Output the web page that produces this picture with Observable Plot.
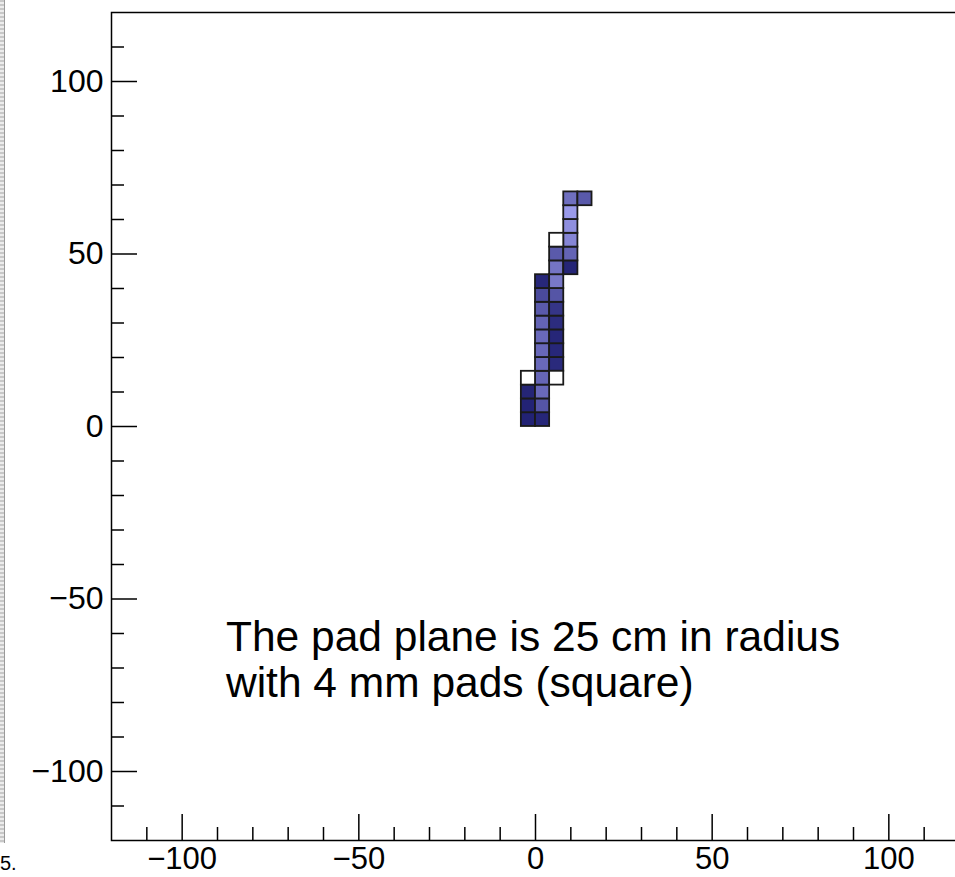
<!DOCTYPE html>
<html>
<head>
<meta charset="utf-8">
<script src="https://cdn.jsdelivr.net/npm/d3@7"></script>
<script src="https://cdn.jsdelivr.net/npm/@observablehq/plot@0.6"></script>
<style>
  html, body { margin: 0; padding: 0; background: #fff; overflow: hidden; }
  #wrap { position: relative; width: 955px; height: 877px; overflow: hidden; }
  #chart { position: absolute; left: 0; top: 0; width: 960px; }
  #chart svg { max-width: none !important; }
  #strip { position: absolute; left: 0; top: 0; width: 4px; height: 843px;
           background: repeating-linear-gradient(#c8c8c8 0 2px, #ececec 2px 4px);
           border-right: 1px solid #9a9a9a; }
  #edge { position: absolute; left: 0px; top: 852px; line-height: 22px;
          font: 20px "Liberation Sans", Arial, Helvetica, sans-serif; color: #000; }
</style>
</head>
<body>
<div id="wrap"><div id="chart"></div><div id="strip"></div><div id="edge">5.</div></div>
<script>
// ---- axis data ----
const xDomain = [-120, 120];
const yDomain = [-120, 120];
const xMajorTicks = [-100, -50, 0, 50, 100];
const xMinorTicks = [-110, -90, -80, -70, -60, -40, -30, -20, -10, 10, 20, 30, 40, 60, 70, 80, 90, 110];
const yMajorTicks = [-100, -50, 0, 50, 100];
const yMinorTicks = [-110, -90, -80, -70, -60, -40, -30, -20, -10, 10, 20, 30, 40, 60, 70, 80, 90, 110];

// ---- pad hits (lower-left corner in mm, charge in arbitrary units; 0 = empty pad) ----
const padSize = 4;
const padX = [-4, -4, -4, -4,
              0, 0, 0, 0, 0, 0, 0, 0, 0, 0, 0,
              4, 4, 4, 4, 4, 4, 4, 4, 4, 4, 4,
              8, 8, 8, 8, 8, 8,
              12];
const padY = [0, 4, 8, 12,
              0, 4, 8, 12, 16, 20, 24, 28, 32, 36, 40,
              12, 16, 20, 24, 28, 32, 36, 40, 44, 48, 52,
              44, 48, 52, 56, 60, 64,
              64];
const padCharge = [97, 96, 95, 0,
                   94, 58, 42, 45, 42, 43, 42, 46, 54, 66, 93,
                   0, 91, 93, 94, 89, 82, 58, 31, 34, 54, 0,
                   95, 46, 21, 13, 5, 38,
                   55];

// ---- annotation ----
const noteLines = ["The pad plane is 25 cm in radius", "with 4 mm pads (square)"];
const noteX = [-87.6, -87.6];
const noteY = [-65.2, -78.5];

const pads = padX.map((x, i) => ({x, y: padY[i], q: padCharge[i]}));
const hit = pads.filter(d => d.q > 0);
const empty = pads.filter(d => d.q === 0);

const W = 960, H = 877;
const mL = 111, mR = 1, mT = 12, mB = 37;
const innerW = W - mL - mR, innerH = H - mT - mB;
const font = '"Liberation Sans", Arial, Helvetica, sans-serif';

const chart = Plot.plot({
  width: W, height: H,
  marginLeft: mL, marginRight: mR, marginTop: mT, marginBottom: mB,
  style: {fontFamily: font, fontSize: "32px", color: "black", background: "white", maxWidth: "none"},
  x: {domain: xDomain, label: null},
  y: {domain: yDomain, label: null},
  color: {type: "linear", domain: [0, 100], range: ["#a0a0f0", "#1e1e70"], interpolate: "rgb"},
  marks: [
    Plot.rect(hit, {x1: d => d.x, x2: d => d.x + padSize, y1: d => d.y, y2: d => d.y + padSize,
                    fill: d => d.q, stroke: "#1a1a1a", strokeWidth: 1.8}),
    Plot.rect(empty, {x1: d => d.x, x2: d => d.x + padSize, y1: d => d.y, y2: d => d.y + padSize,
                      fill: "white", stroke: "#1a1a1a", strokeWidth: 1.8}),
    Plot.frame({stroke: "black", strokeWidth: 1.5}),
    Plot.tickX(xMajorTicks, {x: d => d, insetTop: innerH - 26, stroke: "black", strokeWidth: 1.5}),
    Plot.tickX(xMinorTicks, {x: d => d, insetTop: innerH - 13, stroke: "black", strokeWidth: 1.5}),
    Plot.tickY(yMajorTicks, {y: d => d, insetRight: innerW - 26, stroke: "black", strokeWidth: 1.5}),
    Plot.tickY(yMinorTicks, {y: d => d, insetRight: innerW - 13, stroke: "black", strokeWidth: 1.5}),
    Plot.axisX({ticks: xMajorTicks, tickSize: 0, tickPadding: 6, anchor: "bottom",
                tickFormat: d3.format("d"), fontSize: 31, label: null}),
    Plot.axisY({ticks: yMajorTicks, tickSize: 0, tickPadding: 8, anchor: "left",
                tickFormat: d3.format("d"), fontSize: 32, label: null}),
    Plot.text(noteLines, {x: (d, i) => noteX[i], y: (d, i) => noteY[i], text: d => d,
                          textAnchor: "start", lineAnchor: "bottom", fontSize: 42.5, fill: "black"})
  ]
});
chart.style.maxWidth = "none";
document.getElementById("chart").appendChild(chart);
</script>
</body>
</html>
